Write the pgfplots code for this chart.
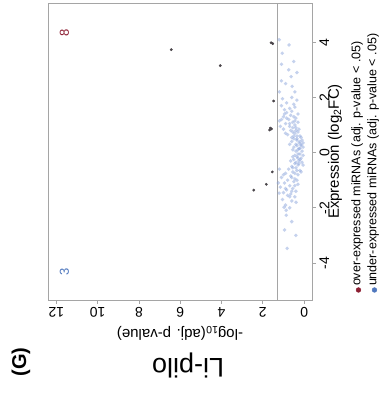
\documentclass[border=0pt]{standalone}
\usepackage{pgfplots}
\pgfplotsset{compat=1.18}
\usepackage{fontspec}
\setmainfont{Liberation Sans}
\definecolor{framegray}{RGB}{165,165,165}
\definecolor{nsblue}{RGB}{140,165,220}
\definecolor{overred}{RGB}{140,30,50}
\definecolor{underblue}{RGB}{80,120,190}
\definecolor{sigdark}{RGB}{75,70,75}

\begin{document}
\begin{tikzpicture}
\begin{scope}[rotate=90, transform shape]
\path[use as bounding box] (0,0) rectangle (398pt,388pt);
\node[rotate=90, font=\fontsize{27}{27}\selectfont] at (33pt,200pt) {Li-pilo};
\node[font=\fontsize{20}{20}\selectfont\bfseries] at (36pt,367pt) {(G)};
\begin{axis}[
  scale only axis, width=297pt, height=264pt,
  at={(98pt,76pt)}, anchor=south west,
  xmin=-5.34, xmax=5.42, ymin=-0.38, ymax=12.4,
  xtick={-4,-2,0,2,4}, ytick={0,2,4,6,8,10,12},
  axis line style={framegray, line width=0.8pt},
  tick style={framegray, line width=0.7pt},
  tick align=outside, major tick length=4pt,
  tick pos=left,
  tick label style={font=\fontsize{14}{14}\selectfont, /pgf/number format/assume math mode=true},
  yticklabel style={rotate=90, anchor=south},
  xlabel={Expression (log\textsubscript{2}FC)},
  ylabel={-log\textsubscript{10}(adj. p-value)},
  label style={font=\fontsize{15}{15}\selectfont},
  xlabel style={at={(axis description cs:0.5,-0.087)}, anchor=center},
  ylabel style={at={(axis description cs:-0.111,0.5)}, anchor=center},
  legend style={at={(axis description cs:0.025,-0.145)}, anchor=north west, draw=none, fill=none,
    font=\fontsize{12.5}{14}\selectfont, row sep=0pt, inner sep=0pt,
    nodes={inner xsep=1.6pt, inner ysep=0pt, text height=10pt, text depth=6pt}},
  legend cell align=left,
]
\addlegendimage{only marks, mark=*, mark size=2.4pt, color=overred}
\addlegendentry{over-expressed miRNAs (adj. p-value < .05)}
\addlegendimage{only marks, mark=*, mark size=2.4pt, color=underblue}
\addlegendentry{under-expressed miRNAs (adj. p-value < .05)}

\addplot[forget plot, framegray, line width=0.8pt] coordinates {(-5.34,1.301) (5.42,1.301)};

% non-significant miRNAs
\addplot[forget plot, only marks, mark=*, mark size=1.9pt, color=nsblue, mark options={draw opacity=0, fill opacity=0.5}] coordinates {
(1.55,0.95) (1.6,0.7) (1.7,1.1) (1.75,0.5) (1.8,0.85) (1.9,0.35) (1.95,1.05) (2.0,0.6)
(1.05,0.9) (1.1,0.55) (1.15,1.2) (1.2,0.75) (1.25,0.4) (1.3,1.0) (1.35,0.65) (1.4,0.3) (1.45,0.85) (1.0,0.45) (1.1,0.3) (1.2,1.1) (1.3,0.5) (1.4,0.95)
(0.5,0.35) (0.55,0.6) (0.6,0.2) (0.65,0.8) (0.7,0.45) (0.75,0.3) (0.8,0.65) (0.85,1.0) (0.9,0.4) (0.95,0.7) (0.55,0.15) (0.7,0.9) (0.85,0.25) (0.95,1.15) (0.6,0.5)
(0.05,0.1) (0.1,0.3) (0.15,0.2) (0.2,0.5) (0.25,0.15) (0.3,0.4) (0.35,0.25) (0.4,0.6) (0.45,0.1) (0.05,0.4) (0.2,0.05) (0.3,0.7) (0.1,0.55) (0.45,0.35) (0.35,0.05)
(-0.05,0.2) (-0.1,0.05) (-0.15,0.35) (-0.2,0.15) (-0.25,0.5) (-0.3,0.25) (-0.35,0.1) (-0.4,0.45) (-0.45,0.3) (-0.5,0.6) (-0.1,0.45) (-0.3,0.65) (-0.2,0.3) (-0.45,0.05)
(-0.55,0.4) (-0.6,0.75) (-0.65,0.2) (-0.7,0.55) (-0.75,0.9) (-0.8,0.3) (-0.85,0.65) (-0.9,1.1) (-0.95,0.45) (-1.0,0.8) (-0.6,1.2) (-0.8,1.0) (-0.7,0.15)
(-1.05,0.5) (-1.1,0.95) (-1.15,0.3) (-1.2,0.7) (-1.25,1.15) (-1.3,0.55) (-1.35,0.85) (-1.4,0.4) (-1.45,1.0) (-1.5,0.65) (-1.1,1.25)
(-1.55,0.8) (-1.6,0.45) (-1.7,1.05) (-1.75,0.6) (-1.8,0.39) (-1.9,0.9) (-2.0,0.7) (-2.09,0.87) (-2.27,0.87) (-1.47,1.21) (-1.98,0.97)
(-2.5,0.6) (-2.8,0.95) (-3.47,0.82) (-3.0,0.4) (2.2,1.2) (2.4,0.58) (2.75,0.63) (2.5,0.9) (3.0,0.75) (3.3,0.5) (3.6,1.06) (3.9,0.73) (4.09,1.21) (3.2,1.1) (2.9,0.35) (2.2,0.45) (2.6,1.1)
(0.15,0.25) (0.25,0.35) (0.4,0.2) (-0.05,0.3) (-0.25,0.2) (-0.4,0.25) (0.6,0.35) (0.75,0.55) (-0.55,0.55) (-0.65,0.35) (0.9,0.55) (1.05,0.7) (-0.9,0.6) (-1.0,0.35) (1.15,0.45) (-1.2,0.45)
(0.3,0.15) (0.5,0.5) (-0.15,0.55) (-0.35,0.4) (0.8,0.4) (-0.75,0.45) (1.25,0.85) (-1.3,0.9) (1.5,0.6) (-1.6,0.7) (1.65,0.45) (-1.4,0.6)
};

% significant over-expressed
\addplot[forget plot, only marks, mark=*, mark size=1.2pt, color=sigdark] coordinates {
(3.73,6.43) (3.15,4.06) (3.98,1.60) (1.87,1.48) (0.89,1.64) (0.82,1.67) (0.86,1.58) (3.95,1.52)
};
% significant under-expressed
\addplot[forget plot, only marks, mark=*, mark size=1.2pt, color=sigdark] coordinates {
(-0.7,1.54) (-1.15,1.83) (-1.36,2.44)
};

\node[text=overred, font=\fontsize{13}{13}\selectfont] at (axis cs:4.35,11.6) {8};
\node[text=underblue, font=\fontsize{13}{13}\selectfont] at (axis cs:-4.33,11.6) {3};
\end{axis}
\end{scope}
\end{tikzpicture}
\end{document}
